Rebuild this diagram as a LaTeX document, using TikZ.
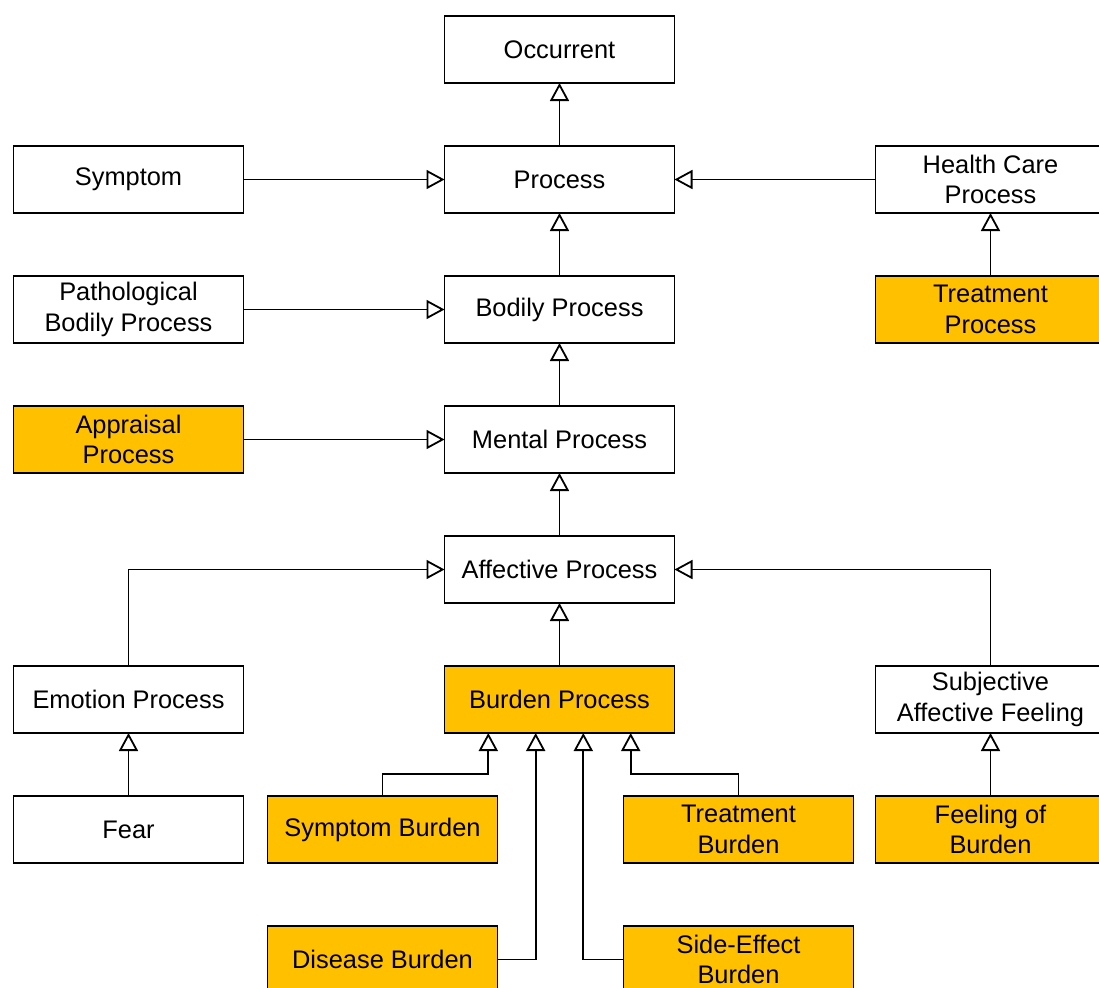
\documentclass[tikz,border=0pt]{standalone}
\usepackage{fontspec}
\setmainfont{Liberation Sans}
\usepackage{tikz}
\usetikzlibrary{arrows.meta, positioning}
\definecolor{burdenfill}{HTML}{FFC000}

\begin{document}
\begin{tikzpicture}[
  x=0.5pt, y=0.5pt,
  node distance=31.5pt and 100.5pt,
  cls/.style={rectangle, draw=black, fill=white, line width=0.9pt, outer sep=0pt, minimum width=115pt, minimum height=33.5pt, align=center, inner sep=2pt, font=\fontsize{12.7}{15.2}\selectfont},
  burden/.style={cls, fill=burdenfill},
  isa/.style={-{Triangle[width=9.5pt, length=9pt, fill=white]}, line width=0.9pt}
]
\useasboundingbox (0,0) rectangle (1099,-987);
\clip (0,0) rectangle (1099,-987);

\node[cls] (occ) at (559.5,-49.5) {Occurrent};
\node[cls, below=of occ] (proc) {Process};
\node[cls, left=of proc] (sym) {Symptom};
\node[cls, right=of proc] (hcp) {Health Care\\Process};

\node[cls, below=of proc] (bod) {Bodily Process};
\node[cls, left=of bod] (path) {Pathological\\Bodily Process};
\node[burden, below=of hcp] (treat) {Treatment\\Process};

\node[cls, below=of bod] (ment) {Mental Process};
\node[burden, left=of ment] (appr) {Appraisal\\Process};

\node[cls, below=of ment] (aff) {Affective Process};
\node[burden, below=of aff] (bur) {Burden Process};
\node[cls, left=of bur] (emo) {Emotion Process};
\node[cls, right=of bur] (saf) {Subjective\\Affective Feeling};

\node[cls, below=of emo] (fear) {Fear};
\node[burden, below=of saf] (fob) {Feeling of\\Burden};
\node[burden, below=of bur, xshift=-88.5pt] (symb) {Symptom Burden};
\node[burden, below=of bur, xshift=89.5pt] (trb) {Treatment\\Burden};
\node[burden, below=of symb] (disb) {Disease Burden};
\node[burden, below=of trb] (seb) {Side-Effect\\Burden};

\draw[isa] (proc) -- (occ);
\draw[isa] (sym) -- (proc);
\draw[isa] (hcp) -- (proc);
\draw[isa] (bod) -- (proc);
\draw[isa] (treat) -- (hcp);
\draw[isa] (path) -- (bod);
\draw[isa] (ment) -- (bod);
\draw[isa] (appr) -- (ment);
\draw[isa] (aff) -- (ment);
\draw[isa] (bur) -- (aff);
\draw[isa] (emo) |- (aff);
\draw[isa] (saf) |- (aff);
\draw[isa] (fear) -- (emo);
\draw[isa] (fob) -- (saf);
\draw[isa] (symb.north) -- ++(0,22) -| ([xshift=-35.6pt]bur.south);
\draw[isa] (trb.north) -- ++(0,22) -| ([xshift=35.6pt]bur.south);
\draw[isa] (disb.east) -| ([xshift=-11.9pt]bur.south);
\draw[isa] (seb.west) -| ([xshift=11.9pt]bur.south);

\end{tikzpicture}
\end{document}
